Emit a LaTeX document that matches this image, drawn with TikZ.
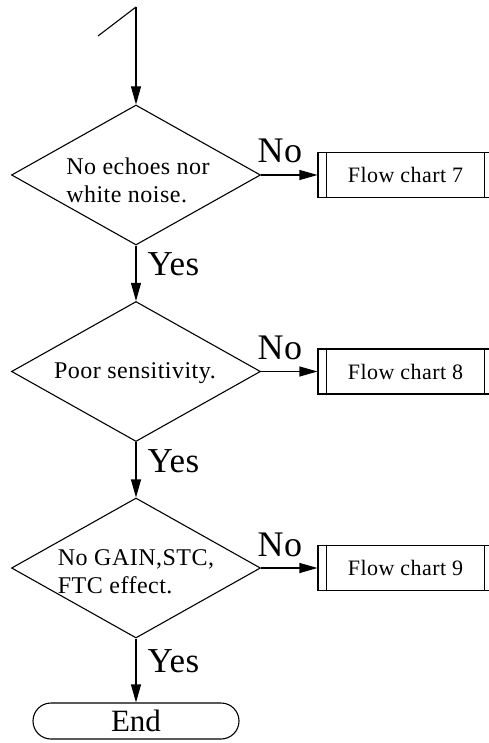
\documentclass[tikz,border=0pt]{standalone}
\usepackage{fontspec}
\setmainfont{Liberation Serif}
\usetikzlibrary{shapes.geometric,arrows.meta}
\begin{document}
\begin{tikzpicture}[x=1pt,y=-1pt,line width=1.1pt,
  dec/.style={draw,diamond,minimum width=249pt,minimum height=140pt,inner sep=0pt},
  dtext/.style={align=left,inner sep=0pt,font=\fontsize{24}{28}\selectfont\addfontfeature{LetterSpace=2}},
  fc/.style={draw,minimum width=175pt,minimum height=45pt,inner sep=0pt,font=\fontsize{22}{26}\selectfont\addfontfeature{LetterSpace=2}},
  term/.style={draw,rounded corners=18pt,minimum width=206pt,minimum height=36pt,inner sep=0pt,font=\fontsize{31}{35}\selectfont},
  yeslab/.style={anchor=base west,inner sep=0pt,font=\fontsize{35}{39}\selectfont\addfontfeature{LetterSpace=1}},
  nolab/.style={anchor=base west,inner sep=0pt,font=\fontsize{36}{40}\selectfont\addfontfeature{LetterSpace=2}},
  arr/.style={-{Triangle[length=18pt,width=10pt]}}]
\useasboundingbox (0,0) rectangle (489,743);
% decisions
\node[dec] (d1) at (136,175) {};
\node[dtext] (t1) at (138,180) {No echoes nor\\white noise.};
\node[dec] (d2) at (136,371.5) {};
\node[dtext] (t2) at (135,373) {Poor sensitivity.};
\node[dec] (d3) at (136,568) {};
\node[dtext] (t3) at (136,572) {No GAIN,STC,\\FTC effect.};
% sub flow charts
\node[fc] (f1) at (405.5,175) {Flow chart 7};
\node[fc] (f2) at (405.5,371.5) {Flow chart 8};
\node[fc] (f3) at (405.5,568) {Flow chart 9};
\foreach \f in {f1,f2,f3}{
  \draw ([xshift=9pt]\f.north west) -- ([xshift=9pt]\f.south west);
  \draw ([xshift=-9pt]\f.north east) -- ([xshift=-9pt]\f.south east);
}
% terminal
\node[term] (end) at (136,721) {End};
% start
\coordinate (s0) at (98,36);
\coordinate (s1) at (136,7);
\draw (s0) -- (s1);
\draw[arr] (s1) -- (d1.north);
% yes arrows
\draw[arr] (d1.south) -- (d2.north);
\draw[arr] (d2.south) -- (d3.north);
\draw[arr] (d3.south) -- (end.north);
\node[yeslab] (y1) at (147,275) {Yes};
\node[yeslab] (y2) at (147,472) {Yes};
\node[yeslab] (y3) at (147,672) {Yes};
% no arrows
\draw[arr] (d1.east) -- (f1.west);
\draw[arr] (d2.east) -- (f2.west);
\draw[arr] (d3.east) -- (f3.west);
\node[nolab] (n1) at (257,163) {No};
\node[nolab] (n2) at (257,359.5) {No};
\node[nolab] (n3) at (257,556) {No};
\end{tikzpicture}
\end{document}
